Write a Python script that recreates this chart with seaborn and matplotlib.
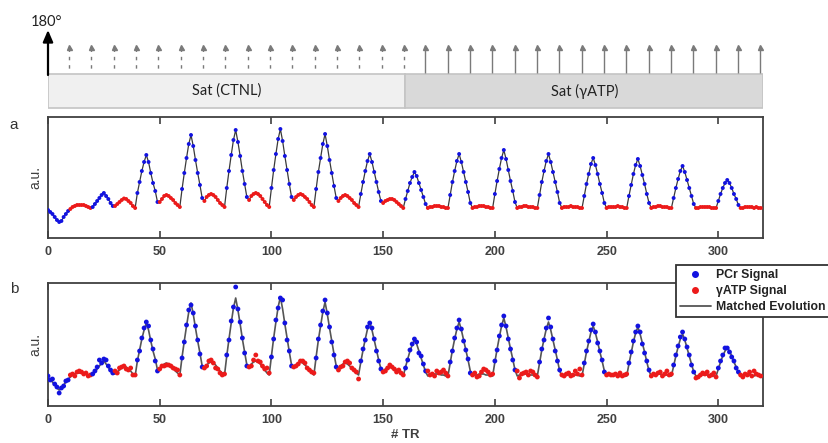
import numpy as np
import pandas as pd
import matplotlib
matplotlib.use("Agg")
import matplotlib.pyplot as plt
from matplotlib.patches import Rectangle
from matplotlib.lines import Line2D
import seaborn as sns

sns.set_style("white")
plt.rcParams["font.family"] = ["Liberation Sans", "DejaVu Sans"]

# ---------------- data ----------------
tr = np.arange(320)

# matched evolution (a.u.), one value per TR, blocks of 10 TR
matched = [
    28, 26, 24, 21, 18, 16, 17, 21, 24, 27,
    29, 31, 32, 33, 33, 33, 33, 32, 31, 30,
    31, 34, 37, 40, 43, 45, 42, 39, 35, 32,
    32, 34, 36, 38, 39.5, 39, 37, 35, 32, 30,
    45, 56, 67, 76, 83, 76, 65, 55, 47, 36,
    36, 39, 42, 43, 42, 40, 38, 35, 33, 31,
    49, 65, 80, 94, 103, 92, 78, 65, 53, 40,
    37, 41, 43, 44, 43, 41, 38, 35, 33, 31,
    50, 67, 83, 98, 108, 96, 82, 67, 54, 41,
    38, 42, 44, 45, 44, 42, 39, 36, 33, 31,
    50, 68, 84, 99, 109, 97, 82, 68, 54, 41,
    38, 41, 43, 44, 43, 41, 39, 36, 33, 31,
    49, 66, 80, 94, 104, 92, 78, 65, 52, 40,
    37, 40, 42, 43, 42, 40, 38, 35, 33, 31,
    44, 56, 67, 77, 84, 76, 66, 56, 46, 37,
    35, 37, 38, 39, 39, 38, 36, 34, 32, 30,
    39, 47, 55, 61, 66, 62, 55, 48, 41, 34,
    30, 31, 31, 32, 32, 32, 31, 31, 30, 30,
    43, 56, 67, 77, 84, 76, 66, 56, 46, 35,
    30, 31, 31, 32, 32, 32, 31, 31, 30, 30,
    44, 57, 69, 80, 88, 79, 68, 57, 47, 36,
    30, 31, 31, 32, 32, 31, 31, 31, 30, 30,
    43, 56, 67, 77, 84, 76, 66, 56, 46, 35,
    30, 31, 31, 31, 32, 31, 31, 31, 30, 30,
    42, 54, 64, 74, 80, 73, 64, 54, 45, 35,
    30, 31, 31, 31, 31, 32, 31, 31, 30, 30,
    42, 53, 64, 73, 79, 72, 63, 54, 44, 35,
    30, 31, 31, 32, 32, 31, 31, 31, 30, 30,
    40, 50, 59, 67, 72, 66, 58, 50, 42, 34,
    30, 30, 31, 31, 31, 31, 31, 30, 30, 30,
    37, 44, 50, 55, 58, 55, 50, 44, 39, 33,
    30, 30, 31, 31, 31, 31, 30, 31, 30, 30,
]

# measured signal (a.u.), panel b
measured = [
    30, 26, 27, 22, 19, 13, 18, 20, 25, 26,
    31, 32, 30, 34, 35, 34, 32, 33, 30, 31,
    32, 35, 39, 46, 43, 47, 46, 40, 36, 33,
    35, 33, 38, 39, 40, 37, 36, 38, 31, 31,
    46, 55, 68, 78, 84, 80, 66, 57, 45, 35,
    37, 40, 40, 41, 41, 40, 38, 37, 36, 31,
    48, 64, 81, 96, 101, 93, 80, 66, 52, 39,
    38, 40, 45, 46, 43, 38, 37, 33, 31, 32,
    51, 66, 85, 99, 119, 97, 84, 68, 53, 40,
    39, 40, 46, 51, 45, 44, 40, 37, 38, 33,
    49, 67, 86, 98, 108, 106, 83, 66, 55, 40,
    39, 40, 42, 45, 45, 43, 38, 36, 34, 33,
    48, 67, 81, 95, 106, 93, 79, 64, 51, 39,
    36, 39, 40, 44, 45, 43, 38, 36, 34, 27,
    45, 57, 66, 79, 83, 78, 67, 55, 45, 37,
    34, 35, 38, 41, 39, 37, 34, 36, 33, 31,
    38, 46, 56, 62, 67, 64, 53, 50, 42, 35,
    35, 31, 32, 30, 35, 33, 34, 36, 33, 30,
    44, 55, 68, 78, 86, 77, 65, 56, 47, 33,
    31, 33, 29, 30, 34, 37, 36, 34, 31, 32,
    45, 56, 70, 81, 90, 80, 67, 57, 46, 36,
    35, 28, 32, 33, 34, 31, 35, 34, 31, 29,
    44, 57, 66, 78, 88, 79, 67, 55, 45, 36,
    31, 30, 32, 33, 30, 31, 35, 32, 37, 31,
    43, 55, 65, 76, 82, 74, 63, 55, 46, 34,
    31, 32, 31, 31, 32, 30, 33, 30, 31, 32,
    43, 54, 65, 74, 80, 74, 62, 53, 45, 36,
    30, 32, 31, 33, 34, 30, 32, 35, 31, 32,
    41, 51, 60, 69, 74, 67, 59, 51, 41, 34,
    28, 29, 31, 33, 32, 34, 30, 31, 33, 29,
    38, 45, 51, 58, 58, 54, 49, 45, 38, 34,
    31, 29, 32, 31, 34, 30, 35, 32, 31, 30,
]

signal_names = ["PCr Signal", "γATP Signal"]
signal = [signal_names[(t // 10) % 2] for t in tr]

ctnl_pulses = list(range(10, 170, 10))     # dashed (control saturation)
atp_pulses = list(range(170, 330, 10))     # solid (γATP saturation)
xticks = [0, 50, 100, 150, 200, 250, 300]
phase_labels = ["Sat (CTNL)", "Sat (γATP)"]
legend_labels = ["PCr Signal", "γATP Signal", "Matched Evolution"]

df = pd.DataFrame({"TR": tr, "matched": matched, "measured": measured, "Signal": signal})
palette = {"PCr Signal": "#1212e0", "γATP Signal": "#ec1a1a"}

W, H = 829, 443
fig = plt.figure(figsize=(W / 100, H / 100), dpi=100)

def fax(left, top, right, bottom):
    return fig.add_axes([left / W, 1 - bottom / H, (right - left) / W, (bottom - top) / H])

# ---------------- schematic ----------------
ax0 = fax(48, 0, 763, 112)
ax0.set_xlim(0, 320)
ax0.set_ylim(112, 0)
ax0.axis("off")
ax0.add_patch(Rectangle((0, 74), 160, 34, facecolor="#f0f0f0", edgecolor="#c4c4c4", lw=1.2))
ax0.add_patch(Rectangle((160, 74), 160, 34, facecolor="#d9d9d9", edgecolor="#c4c4c4", lw=1.2))
ax0.text(80, 91, phase_labels[0], ha="center", va="center", fontsize=10.5, family=["Lato", "DejaVu Sans"], color="#222222")
ax0.text(240, 91, phase_labels[1], ha="center", va="center", fontsize=10.5, family=["Lato", "DejaVu Sans"], color="#222222")

cx = np.array(ctnl_pulses) - 0.6
axp = np.array(atp_pulses) - 1.2
ax0.vlines(cx, 48, 73, colors="#7a7a7a", linestyles=(0, (2.5, 3.5)), lw=1.0)
ax0.vlines(axp, 48, 73, colors="#7a7a7a", lw=1.0)
ax0.plot(cx, [46.5] * len(cx), ls="none", marker="^", ms=3.6, color="#7a7a7a")
ax0.plot(axp, [46.5] * len(axp), ls="none", marker="^", ms=3.6, color="#7a7a7a")
ax0.annotate("", xy=(0, 30), xytext=(0, 75),
             arrowprops=dict(arrowstyle="-|>,head_length=0.7,head_width=0.3", color="black",
                             lw=1.6, shrinkA=0, shrinkB=0), annotation_clip=False)
ax0.text(-0.5, 22, "180°", ha="center", va="center", fontsize=10.5, family=["Lato", "DejaVu Sans"], color="#222222")

# ---------------- panels ----------------
axa = fax(48, 117, 763, 238)
axb = fax(48, 283, 763, 406)

sns.lineplot(data=df, x="TR", y="matched", color="#3a3a3a", lw=0.9, ax=axa, zorder=2)
sns.scatterplot(data=df, x="TR", y="matched", hue="Signal", palette=palette, s=8,
                linewidth=0, legend=False, ax=axa, zorder=3)

sns.lineplot(data=df, x="TR", y="matched", color="#555555", lw=1.2, ax=axb, zorder=2)
sns.scatterplot(data=df, x="TR", y="measured", hue="Signal", palette=palette, s=12,
                linewidth=0, legend=False, ax=axb, zorder=3)

axa.set_ylim(0, 121)
axb.set_ylim(0, 123)
for ax in (axa, axb):
    ax.set_xlim(0, 320)
    ax.set_xticks(xticks)
    ax.set_yticks([])
    ax.tick_params(axis="x", direction="in", top=True, bottom=True, length=5, width=1.2,
                   color="#404040", labelsize=9, labelcolor="#404040", pad=6)
    for lab in ax.get_xticklabels():
        lab.set_fontweight("bold")
    for s in ax.spines.values():
        s.set_color("#404040")
        s.set_linewidth(1.3)
    ax.set_ylabel("a.u.", fontsize=10, color="#404040", labelpad=4)
    ax.set_xlabel("")

axb.set_xlabel("# TR", fontsize=9.5, fontweight="bold", color="#404040", labelpad=2)

fig.text(14 / W, 1 - 125 / H, "a", fontsize=11, color="#333333", ha="center", va="center")
fig.text(14 / W, 1 - 289 / H, "b", fontsize=11, color="#333333", ha="center", va="center")

# legend
handles = [
    Line2D([], [], ls="none", marker="o", ms=4, color=palette["PCr Signal"]),
    Line2D([], [], ls="none", marker="o", ms=4, color=palette["γATP Signal"]),
    Line2D([], [], color="#555555", lw=1.3),
]
leg = axb.legend(handles, legend_labels,
                 loc="upper left", bbox_to_anchor=(0.878, 1.148), frameon=True, fancybox=False,
                 framealpha=1, edgecolor="#333333", fontsize=8.8, handlelength=2.5,
                 labelspacing=0.32, borderpad=0.35, handletextpad=0.45, borderaxespad=0)
leg.get_frame().set_linewidth(1.3)
for t in leg.get_texts():
    t.set_fontweight("bold")
    t.set_color("#222222")

fig.savefig("out.png", dpi=100)
